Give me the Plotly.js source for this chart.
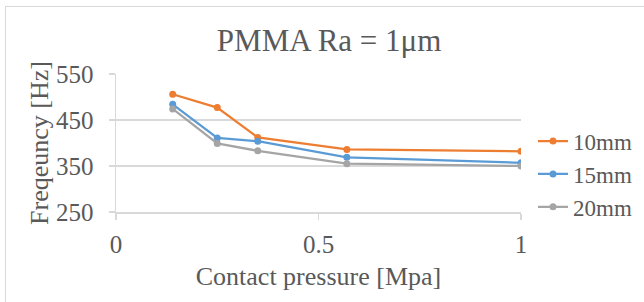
<!DOCTYPE html>
<html>
<head>
<meta charset="utf-8">
<script src="https://cdn.plot.ly/plotly-3.0.1.min.js"></script>
<style>
html,body{margin:0;padding:0;background:#fff;overflow:hidden;}
#wrap{position:relative;width:644px;height:302px;}
#chart{width:644px;height:302px;}
#frame{position:absolute;left:5px;top:6px;width:700px;height:400px;border:1.5px solid #d9d9d9;pointer-events:none;}
</style>
</head>
<body>
<div id="wrap"><div id="chart"></div><div id="frame"></div></div>
<script>
const pressure = [0.14, 0.25, 0.35, 0.57, 1.0];
const seriesNames = ["10mm", "15mm", "20mm"];
const freq10mm = [506, 477, 412, 386, 382];
const freq15mm = [484, 411, 404, 369, 357];
const freq20mm = [474, 399, 383, 355, 350];
const colors = ["#ED7D31", "#5B9BD5", "#A5A5A5"];
const xTickVals = [0, 0.5, 1];
const xTickText = ["0", "0.5", "1"];
const yTickVals = [250, 350, 450, 550];

const serif = "Liberation Serif, Times New Roman, serif";
const allY = [freq10mm, freq15mm, freq20mm];
const traces = allY.map((ys, i) => ({
  x: pressure, y: ys, name: seriesNames[i], type: "scatter", mode: "lines+markers",
  line: {color: colors[i], width: 2.25},
  marker: {color: colors[i], size: 7}
}));

const layout = {
  width: 644, height: 302,
  margin: {l: 116, r: 123, t: 74, b: 90},
  paper_bgcolor: "#fff", plot_bgcolor: "#fff",
  font: {family: serif, color: "#595959", size: 25},
  title: {text: "PMMA Ra = 1\u03bcm", font: {family: serif, size: 31, color: "#595959"},
          xref: "container", yref: "container", x: 0.511, y: 1 - 40/302, xanchor: "center", yanchor: "middle"},
  xaxis: {
    range: [0, 1], tickvals: xTickVals, ticktext: xTickText,
    showgrid: false, zeroline: false, showline: true, linecolor: "#d9d9d9", linewidth: 1.5,
    ticks: "outside", ticklen: 6, tickcolor: "#d9d9d9", tickwidth: 1.5, ticklabelstandoff: 3,
    tickfont: {size: 25, family: serif, color: "#595959"},
    title: {text: "Contact pressure [Mpa]", font: {size: 26, family: serif, color: "#595959"}, standoff: 10}
  },
  yaxis: {
    range: [250, 550], tickvals: yTickVals,
    showgrid: true, gridcolor: "#d9d9d9", gridwidth: 1.5, zeroline: false,
    showline: true, linecolor: "#d9d9d9", linewidth: 1.5,
    ticks: "outside", ticklen: 6, tickcolor: "#d9d9d9", tickwidth: 1.5, ticklabelstandoff: 10,
    tickfont: {size: 25, family: serif, color: "#595959"},
    title: {text: "Freqeuncy [Hz]", font: {size: 26, family: serif, color: "#595959"}, standoff: 0}
  },
  legend: {xref: "container", x: 533/644, xanchor: "left", y: 0.275, yanchor: "middle",
           font: {size: 23, family: serif, color: "#595959"}, bgcolor: "rgba(0,0,0,0)", tracegroupgap: 0, itemwidth: 30},
  showlegend: true
};
Plotly.newPlot("chart", traces, layout, {staticPlot: true, displayModeBar: false});
</script>
</body>
</html>
